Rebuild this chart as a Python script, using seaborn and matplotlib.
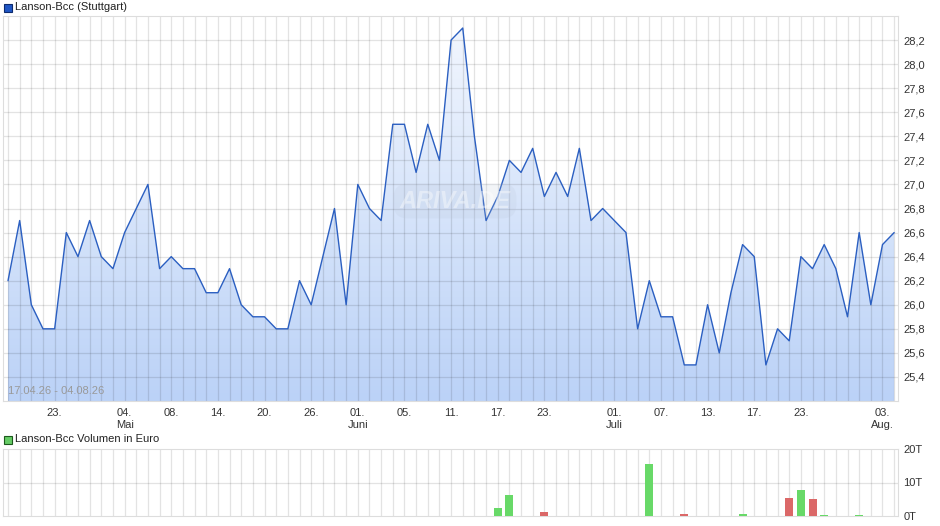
import numpy as np
import pandas as pd
import matplotlib
matplotlib.use("Agg")
import matplotlib.pyplot as plt
import seaborn as sns
from matplotlib.colors import LinearSegmentedColormap
from matplotlib.patches import Rectangle
from matplotlib.ticker import FuncFormatter, MultipleLocator, FixedLocator

# Kursdaten Lanson-Bcc (Stuttgart), 17.04.26 - 04.08.26, ein Wert pro Handelstag
price = [26.2, 26.7, 26.0, 25.8, 25.8, 26.6, 26.4, 26.7, 26.4, 26.3,
         26.6, 26.8, 27.0, 26.3, 26.4, 26.3, 26.3, 26.1, 26.1, 26.3,
         26.0, 25.9, 25.9, 25.8, 25.8, 26.2, 26.0, 26.4, 26.8, 26.0,
         27.0, 26.8, 26.7, 27.5, 27.5, 27.1, 27.5, 27.2, 28.2, 28.3,
         27.4, 26.7, 26.9, 27.2, 27.1, 27.3, 26.9, 27.1, 26.9, 27.3,
         26.7, 26.8, 26.7, 26.6, 25.8, 26.2, 25.9, 25.9, 25.5, 25.5,
         26.0, 25.6, 26.1, 26.5, 26.4, 25.5, 25.8, 25.7, 26.4, 26.3,
         26.5, 26.3, 25.9, 26.6, 26.0, 26.5, 26.6]

# Volumen in Tausend Euro (nur Tage mit Umsatz)
vol_days = [42, 43, 46, 55, 58, 63, 67, 68, 69, 70, 73]
vol_values = [2.4, 6.3, 1.2, 15.5, 0.6, 0.6, 5.4, 7.8, 5.1, 0.3, 0.3]

tick_pos = [4, 10, 14, 18, 22, 26, 30, 34, 38, 42, 46, 52, 56, 60, 64, 68, 75]
tick_labels = ["23.", "04.\nMai", "08.", "14.", "20.", "26.", "01.\nJuni", "05.",
               "11.", "17.", "23.", "01.\nJuli", "07.", "13.", "17.", "23.", "03.\nAug."]

idx = np.arange(len(price))
df = pd.DataFrame({"tag": idx, "kurs": price})
vol = np.zeros(len(price))
vol[vol_days] = vol_values
richtung = ["up"] + ["up" if price[i] >= price[i - 1] else "down" for i in range(1, len(price))]
dfv = pd.DataFrame({"tag": idx, "vol": vol, "richtung": richtung})

sns.set_style("white")
plt.rcParams["font.family"] = ["Liberation Sans", "DejaVu Sans"]

W, H = 940, 526
fig = plt.figure(figsize=(W / 100, H / 100), dpi=100)

def px_axes(left, top, right, bottom):
    return fig.add_axes([left / W, 1 - bottom / H, (right - left) / W, (bottom - top) / H])

xmin, xmax = -0.43, 76.33
ymin, ymax = 25.2, 28.4
grid_kw = dict(color="#000000", alpha=0.11, lw=0.9)

# === Kurs-Chart ===
ax = px_axes(3, 16, 898, 401)
fill = ax.fill_between(df["tag"], df["kurs"], ymin, color="none", lw=0)
cmap = LinearSegmentedColormap.from_list("blau", ["#bbd2f7", "#f3f7fe"])
grad = np.linspace(0, 1, 256).reshape(-1, 1)
im = ax.imshow(grad, extent=[xmin, xmax, ymin, ymax], origin="lower", aspect="auto",
               cmap=cmap, zorder=1)
im.set_clip_path(fill.get_paths()[0], transform=ax.transData)
sns.lineplot(data=df, x="tag", y="kurs", ax=ax, color="#2b5fc1", lw=1.0, zorder=3)

# Gitterlinien: eine pro Handelstag, eine je 0,2 Euro
for t in idx:
    ax.axvline(t, zorder=2, **grid_kw)
for v in np.arange(25.4, 28.21, 0.2):
    ax.axhline(v, zorder=2, **grid_kw)

ax.set_xlim(xmin, xmax)
ax.set_ylim(ymin, ymax)
ax.yaxis.tick_right()
ax.yaxis.set_major_locator(FixedLocator(np.round(np.arange(25.4, 28.21, 0.2), 1)))
ax.yaxis.set_major_formatter(FuncFormatter(lambda v, p: f"{v:.1f}".replace(".", ",")))
ax.xaxis.set_major_locator(FixedLocator(tick_pos))
ax.set_xticklabels(tick_labels)
ax.xaxis.set_minor_locator(MultipleLocator(1))
ax.tick_params(axis="y", which="both", length=0, pad=4, labelsize=8, labelcolor="#333333")
ax.tick_params(axis="x", which="both", length=3, color="#cccccc", pad=2, labelsize=8,
               labelcolor="#333333")
for s in ax.spines.values():
    s.set_color("#dddddd")
ax.set_xlabel("")
ax.set_ylabel("")

ax.text(0.006, 0.012, "17.04.26 - 04.08.26", transform=ax.transAxes, fontsize=8,
        color="#999999", ha="left", va="bottom", zorder=4)
ax.text(455 / W, 1 - 201 / H, "ARIVA.DE", transform=fig.transFigure, fontsize=17,
        fontweight="bold", style="italic", color="#ffffff", alpha=0.4, ha="center",
        va="center", zorder=4,
        bbox=dict(boxstyle="round,pad=0.25,rounding_size=0.6", fc="#b8c4d8", ec="none",
                  alpha=0.18))

# === Volumen-Chart ===
axv = px_axes(3, 449, 898, 516)
for t in idx:
    axv.axvline(t, zorder=1, **grid_kw)
axv.axhline(10, zorder=1, **grid_kw)
sns.barplot(data=dfv, x="tag", y="vol", hue="richtung", ax=axv, native_scale=True,
            dodge=False, width=0.69, linewidth=0, legend=False, zorder=3, saturation=1,
            palette={"up": "#68d968", "down": "#db6868"})
axv.set_xlim(xmin, xmax)
axv.set_ylim(0, 20)
axv.yaxis.tick_right()
axv.yaxis.set_major_locator(FixedLocator([0, 10, 20]))
axv.yaxis.set_major_formatter(FuncFormatter(lambda v, p: f"{v:.0f}T"))
axv.xaxis.set_major_locator(FixedLocator([]))
axv.tick_params(axis="y", length=0, pad=4, labelsize=8, labelcolor="#333333")
axv.tick_params(axis="x", which="both", length=0, labelbottom=False)
for s in axv.spines.values():
    s.set_color("#dddddd")
axv.set_xlabel("")
axv.set_ylabel("")

# === Legenden ===
fig.patches.append(Rectangle((4 / W, 1 - 12 / H), 8 / W, 8 / H, transform=fig.transFigure,
                             fc="#1f56c4", ec="#0d2a6e", lw=0.8))
fig.text(15 / W, 1 - 7.5 / H, "Lanson-Bcc (Stuttgart)", fontsize=8, color="#222222",
         va="center", ha="left")
fig.patches.append(Rectangle((4 / W, 1 - 444 / H), 8 / W, 8 / H, transform=fig.transFigure,
                             fc="#66cc66", ec="#1d5a1d", lw=0.8))
fig.text(15 / W, 1 - 439.5 / H, "Lanson-Bcc Volumen in Euro", fontsize=8, color="#222222",
         va="center", ha="left")

fig.savefig("out.png", dpi=100)
